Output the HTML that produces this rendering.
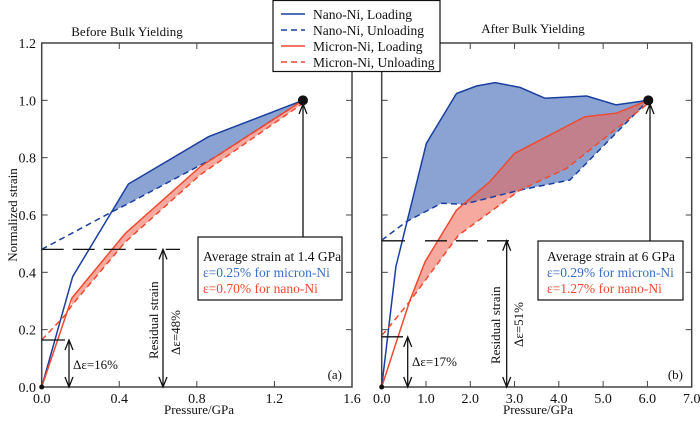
<!DOCTYPE html>
<html><head><meta charset="utf-8"><style>
body{margin:0;background:#fff}
svg text{font-family:"Liberation Serif",serif;fill:#111}
</style></head><body>
<svg id="c" width="700" height="418" viewBox="0 0 700 418" xmlns="http://www.w3.org/2000/svg"></svg>
<script>
// Panel (a) data
const aNanoLoadP=[0,0.16,0.447,0.86,1.347];
const aNanoLoadS=[0,0.385,0.708,0.873,1.0];
const aNanoUnP=[0,0.36,0.447,0.89,1.347];
const aNanoUnS=[0.48,0.61,0.64,0.80,1.0];
const aMicLoadP=[0,0.155,0.43,0.817,1.347];
const aMicLoadS=[0,0.31,0.535,0.768,1.0];
const aMicUnP=[0,0.12,0.155,0.43,0.817,1.347];
const aMicUnS=[0.164,0.25,0.285,0.505,0.74,0.99];
// Panel (b) data
const bNanoLoadP=[0,0.32,1.01,1.69,2.14,2.56,3.12,3.69,4.63,5.29,6.02];
const bNanoLoadS=[0,0.42,0.85,1.024,1.05,1.062,1.045,1.007,1.015,0.984,1.0];
const bNanoUnP=[0,0.56,1.35,1.84,3.12,4.25,6.02];
const bNanoUnS=[0.512,0.577,0.641,0.637,0.687,0.722,1.0];
const bMicLoadP=[0,0.64,0.98,1.69,2.44,3.0,4.59,5.3,6.02];
const bMicLoadS=[0,0.303,0.437,0.617,0.716,0.815,0.943,0.955,1.0];
const bMicUnP=[0,0.11,0.64,1.73,3.12,4.18,6.02];
const bMicUnS=[0.18,0.199,0.30,0.529,0.687,0.763,0.99];
const aXTicks=[0,0.4,0.8,1.2,1.6];
const aXLabels=["0.0","0.4","0.8","1.2","1.6"];
const bXTicks=[0,1,2,3,4,5,6,7];
const bXLabels=["0.0","1.0","2.0","3.0","4.0","5.0","6.0","7.0"];
const yTicks=[0,0.2,0.4,0.6,0.8,1.0,1.2];
const yLabels=["0.0","0.2","0.4","0.6","0.8","1.0","1.2"];

const NS="http://www.w3.org/2000/svg";
const svg=document.getElementById('c');
const Y0=387,Y1=43;
const sy=v=>Y0-v/1.2*(Y0-Y1);
const ax=v=>41.7+v/1.6*(352-41.7);
const bx=v=>381.7+v/7*(691.7-381.7);
function mk(tag,attrs,parent){const e=document.createElementNS(NS,tag);for(const k in attrs)e.setAttribute(k,attrs[k]);(parent||svg).appendChild(e);return e;}
function pts(xs,ys,fx){return xs.map((p,i)=>fx(p).toFixed(1)+','+sy(ys[i]).toFixed(1)).join(' ');}
function band(lp,ls,up,us,fx,from){ // polygon from p>=from
  const a=[],b=[];
  lp.forEach((p,i)=>{if(p>=from)a.push(fx(p).toFixed(1)+','+sy(ls[i]).toFixed(1));});
  up.forEach((p,i)=>{if(p>=from)b.push(fx(p).toFixed(1)+','+sy(us[i]).toFixed(1));});
  return a.concat(b.reverse()).join(' ');
}
function txt(x,y,s,attrs,name){const t=mk('text',Object.assign({x:x,y:y,'font-size':13},attrs||{}));t.textContent=s;

return t;}

// fills
let f;
f=mk('polygon',{points:band(aNanoLoadP,aNanoLoadS,aNanoUnP,aNanoUnS,ax,0.36),fill:'#8aa3d2'});


f=mk('polygon',{points:band(aMicLoadP,aMicLoadS,aMicUnP,aMicUnS,ax,0.155),fill:'rgba(238,100,80,0.55)'});


f=mk('polygon',{points:band(bNanoLoadP,bNanoLoadS,bNanoUnP,bNanoUnS,bx,0.5),fill:'#8aa3d2'});


f=mk('polygon',{points:band(bMicLoadP,bMicLoadS,bMicUnP,bMicUnS,bx,0.64),fill:'rgba(238,100,80,0.55)'});



// lines
const BL='#1a3fa0',RD='#f04a30';
function line(xs,ys,fx,col,dash,name){const l=mk('polyline',{points:pts(xs,ys,fx),fill:'none',stroke:col,'stroke-width':1.5});if(dash)l.setAttribute('stroke-dasharray','6,4');

}
line(aNanoLoadP,aNanoLoadS,ax,BL,false,'a-nano-loading-line');
line(aNanoUnP,aNanoUnS,ax,BL,true,'a-nano-unloading-line');
line(aMicLoadP,aMicLoadS,ax,RD,false,'a-micron-loading-line');
line(aMicUnP,aMicUnS,ax,RD,true,'a-micron-unloading-line');
line(bNanoLoadP,bNanoLoadS,bx,BL,false,'b-nano-loading-line');
line(bNanoUnP,bNanoUnS,bx,BL,true,'b-nano-unloading-line');
line(bMicLoadP,bMicLoadS,bx,RD,false,'b-micron-loading-line');
line(bMicUnP,bMicUnS,bx,RD,true,'b-micron-unloading-line');

// frames and ticks
function frame(x0,x1,fx,xt,xl,pname){
  const r=mk('rect',{x:x0,y:Y1,width:x1-x0,height:Y0-Y1,fill:'none',stroke:'#444','stroke-width':1.5});
  
  
  xt.forEach((v,i)=>{const X=fx(v);mk('line',{x1:X,x2:X,y1:Y0,y2:Y0-6,stroke:'#444'});mk('line',{x1:X,x2:X,y1:Y1,y2:Y1+6,stroke:'#444'});
    txt(X,403,xl[i],{'text-anchor':'middle','font-size':14},pname+'-x-tick-label');});
  yTicks.forEach(v=>{const Yp=sy(v);mk('line',{x1:x0,x2:x0+6,y1:Yp,y2:Yp,stroke:'#444'});mk('line',{x1:x1,x2:x1-6,y1:Yp,y2:Yp,stroke:'#444'});});
}
frame(41.7,352,ax,aXTicks,aXLabels,'a');
frame(381.7,691.7,bx,bXTicks,bXLabels,'b');
yTicks.forEach((v,i)=>txt(36,sy(v)+5,yLabels[i],{'text-anchor':'end','font-size':14},'y-tick-label'));

// annotations
const K='#111';
function seg(x1,y1,x2,y2,extra,name){const l=mk('line',Object.assign({x1:x1,y1:y1,x2:x2,y2:y2,stroke:K,'stroke-width':1.3},extra||{}));

return l;}
function arrowHead(x,y,dir){const d=dir*10;mk('polyline',{points:`${x-4},${y+d} ${x},${y} ${x+4},${y+d}`,fill:'none',stroke:K,'stroke-width':1.3});}
// panel a
seg(41.7,sy(0.48),180,sy(0.48),{'stroke-dasharray':'22,9'},'a-residual-dashed-line');
seg(41.7,sy(0.164),65,sy(0.164),{},'a-offset-line');
seg(69,sy(0.164),69,Y0,{},'a-delta16-arrow');arrowHead(69,sy(0.164),1);arrowHead(69,Y0,-1);
seg(163,sy(0.48),163,Y0,{},'a-residual-arrow');arrowHead(163,sy(0.48),1);arrowHead(163,Y0,-1);
txt(73,369,'Δε=16%',{'font-size':13},'a-delta16-label');
let t=txt(0,0,'Residual strain',{'font-size':13,transform:'translate(158,359) rotate(-90)'},'a-residual-strain-label');
t=txt(0,0,'Δε=48%',{'font-size':13,transform:'translate(180,355) rotate(-90)'},'a-delta48-label');
seg(303,237,303,104,{},'a-peak-arrow');arrowHead(303,104,1);
mk('circle',{cx:ax(1.347),cy:sy(1),r:5,fill:'#111'});
mk('circle',{cx:ax(0),cy:sy(0),r:2.5,fill:'#111'});
let bxr=mk('rect',{x:198,y:237,width:144,height:63,fill:'#fff',stroke:K,'stroke-width':1.2});


txt(203,261,'Average strain at 1.4 GPa',{'font-size':13.5},'a-info-title');
txt(203,277,'ε=0.25% for micron-Ni',{'font-size':13.5,style:'fill:#3a6ec6'},'a-info-micron');
txt(203,293,'ε=0.70% for nano-Ni',{'font-size':13.5,style:'fill:#f04a30'},'a-info-nano');
txt(342,379,'(a)',{'font-size':13,'text-anchor':'end'},'a-panel-label');
txt(127,36,'Before Bulk Yielding',{'font-size':13,'text-anchor':'middle'},'a-title');
// panel b
seg(381.7,sy(0.51),405,sy(0.51),{},'b-offset-top-line');
seg(425,sy(0.51),518,sy(0.51),{'stroke-dasharray':'22,9'},'b-residual-dashed-line');
seg(381.7,sy(0.175),403,sy(0.175),{},'b-offset-line');
seg(407.7,sy(0.175),407.7,Y0,{},'b-delta17-arrow');arrowHead(407.7,sy(0.175),1);arrowHead(407.7,Y0,-1);
seg(506.7,sy(0.51),506.7,Y0,{},'b-residual-arrow');arrowHead(506.7,sy(0.51),1);arrowHead(506.7,Y0,-1);
txt(412,366,'Δε=17%',{'font-size':13},'b-delta17-label');
txt(0,0,'Residual strain',{'font-size':13,transform:'translate(500,364) rotate(-90)'},'b-residual-strain-label');
txt(0,0,'Δε=51%',{'font-size':13,transform:'translate(523,347) rotate(-90)'},'b-delta51-label');
seg(650,241,650,104,{},'b-peak-arrow');arrowHead(650,104,1);
mk('circle',{cx:bx(6.02),cy:sy(1),r:5,fill:'#111'});
mk('circle',{cx:bx(0),cy:sy(0),r:2.5,fill:'#111'});
bxr=mk('rect',{x:538,y:241,width:145,height:59,fill:'#fff',stroke:K,'stroke-width':1.2});


txt(547,261,'Average strain at 6 GPa',{'font-size':13.5},'b-info-title');
txt(547,277,'ε=0.29% for micron-Ni',{'font-size':13.5,style:'fill:#3a6ec6'},'b-info-micron');
txt(547,293,'ε=1.27% for nano-Ni',{'font-size':13.5,style:'fill:#f04a30'},'b-info-nano');
txt(683,379,'(b)',{'font-size':13,'text-anchor':'end'},'b-panel-label');
txt(533,33,'After Bulk Yielding',{'font-size':13,'text-anchor':'middle'},'b-title');
// axis titles
txt(0,0,'Normalized strain',{'font-size':13,'text-anchor':'middle',transform:'translate(17,215) rotate(-90)'},'y-axis-title');
txt(199,414,'Pressure/GPa',{'font-size':13,'text-anchor':'middle'},'a-x-axis-title');
txt(538,414,'Pressure/GPa',{'font-size':13,'text-anchor':'middle'},'b-x-axis-title');
// legend
const lg=mk('rect',{x:273,y:0.5,width:167,height:71,fill:'#fff',stroke:K,'stroke-width':1.2});


const legNames=['Nano-Ni, Loading','Nano-Ni, Unloading','Micron-Ni, Loading','Micron-Ni, Unloading'];
const legCols=[BL,BL,RD,RD],legDash=[false,true,false,true];
legNames.forEach((n,i)=>{const yy=14+i*16;
  const l=mk('line',{x1:281,x2:305,y1:yy,y2:yy,stroke:legCols[i],'stroke-width':1.5});
  if(legDash[i])l.setAttribute('stroke-dasharray','6,4');
  
  
  txt(313,yy+5,n,{'font-size':13.5},'legend-entry');});
</script>
</body></html>
